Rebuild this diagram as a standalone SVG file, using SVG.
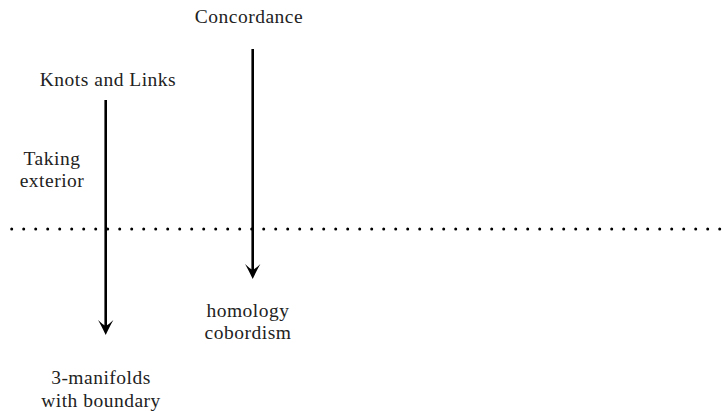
<svg xmlns="http://www.w3.org/2000/svg" width="722" height="411" viewBox="0 0 722 411">
<style>
text{font-family:"Liberation Serif","Times New Roman",serif;font-size:19.5px;letter-spacing:0.5px;fill:#222;text-anchor:middle}
.ln{stroke:#000;stroke-width:2.6;fill:none}
.dots{stroke:#000;stroke-width:3;stroke-linecap:round;stroke-dasharray:0 12;fill:none}
.head{fill:#000}
</style>
<rect width="722" height="411" fill="#fff"/>
<g id="divider"><line class="dots" x1="11.7" y1="229" x2="722" y2="229"/></g>
<g id="connectors">
<line class="ln" x1="105.7" y1="100" x2="105.7" y2="330"/>
<path class="head" d="M105.7,335 Q101,325 98,320 Q102,324 105.7,326 Q109.4,324 113.4,320 Q110.4,325 105.7,335 Z"/>
<line class="ln" x1="252.7" y1="49" x2="252.7" y2="274"/>
<path class="head" d="M252.7,279 Q248,269 245,264 Q249,268 252.7,270 Q256.4,268 260.4,264 Q257.4,269 252.7,279 Z"/>
</g>
<g id="concordance"><text x="249" y="23">Concordance</text></g>
<g id="knots"><text x="108" y="86">Knots and Links</text></g>
<g id="taking"><text x="52" y="165">Taking</text><text x="52" y="187">exterior</text></g>
<g id="homology"><text x="248" y="317">homology</text><text x="248" y="339">cobordism</text></g>
<g id="manifolds"><text x="101" y="384">3-manifolds</text><text x="101" y="407">with boundary</text></g>
</svg>
